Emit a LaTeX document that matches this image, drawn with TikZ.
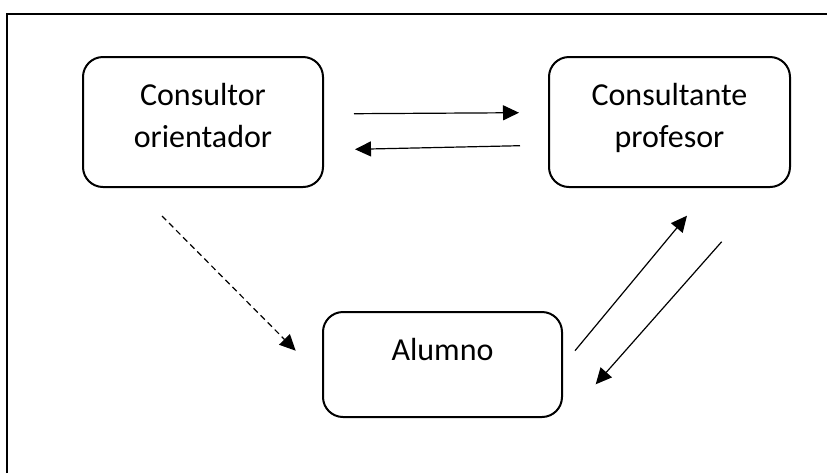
\documentclass[tikz,border=0pt]{standalone}
\usepackage{fontspec}
\setmainfont{Carlito}
\usetikzlibrary{arrows.meta}

% box text: width, height, lines (top aligned)
\newcommand{\boxtext}[3]{\parbox[c][#2][t]{#1}{\centering\rule{0pt}{24pt}#3}}

\begin{document}
\begin{tikzpicture}[x=0.5pt,y=-0.5pt]

        \useasboundingbox (0,0) rectangle (827,473);
        \draw[line width=1.1pt] (7,473) -- (7,14) -- (827,14);

        \begin{scope}[every node/.style={draw,rounded corners=10pt,line width=1pt,inner sep=0pt,
            font=\fontsize{16pt}{21pt}\selectfont}]
          \node (orientador) at (203,122)   {\boxtext{120pt}{65pt}{Consultor\\orientador}};
          \node (profesor)   at (669.5,122) {\boxtext{120.5pt}{65pt}{Consultante\\profesor}};
          \node (alumno)     at (442.5,364.5) {\boxtext{119.5pt}{52.5pt}{Alumno}};
        \end{scope}

        % free ends of the arrows
        \coordinate (1)  at (354,113.7);
        \coordinate (2)  at (519,112.7);
        \coordinate (3)  at (520,145.7);
        \coordinate (4)  at (355,149.3);
        \coordinate (5)  at (162,216);
        \coordinate (6)  at (295.7,350.7);
        \coordinate (7)  at (575,350.7);
        \coordinate (8)  at (687,215.7);
        \coordinate (9)  at (721.7,241.7);
        \coordinate (10) at (595.7,384.3);

        \begin{scope}[every edge/.style={draw,line width=0.6pt,-{Triangle[length=8pt,width=7.5pt]}}]
          \path (1) edge (2);
          \path (3) edge (4);
          \path (5) edge[dash pattern=on 3pt off 2pt] (6);
          \path (7) edge (8);
          \path (9) edge (10);
        \end{scope}

      \end{tikzpicture}
\end{document}
